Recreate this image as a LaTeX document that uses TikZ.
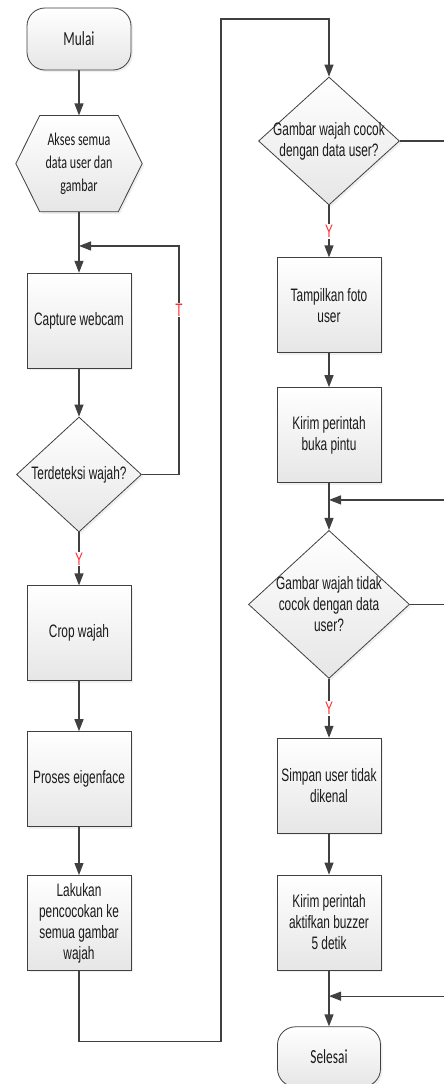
\documentclass[tikz,border=0pt]{standalone}
\usepackage{xcolor}
\usepackage{fontspec}
\setmainfont[FakeStretch=0.66]{Liberation Sans}
\newfontfamily\calfont[FakeStretch=0.67]{Carlito}
\usepackage{tikz}
\usetikzlibrary{shapes.geometric, arrows.meta, positioning, shadows, calc, backgrounds}

\definecolor{linegray}{HTML}{404040}
\definecolor{boxgray}{HTML}{E6E6E6}
\definecolor{txtgray}{HTML}{1A1A1A}
\definecolor{lblred}{HTML}{FF2A2A}

\begin{document}
\begin{tikzpicture}[
    x=1pt, y=-1pt,
    base/.style={draw=linegray, line width=0.8pt, top color=white, bottom color=boxgray, text=txtgray,
        drop shadow={shadow xshift=2pt, shadow yshift=-2pt, fill=black!12}},
    box/.style={base, rectangle, minimum width=104pt, minimum height=95pt, align=center, inner sep=2pt,
        font=\fontsize{18}{21}\selectfont},
    term/.style={box, rounded corners=18pt, minimum height=62pt, font=\calfont\fontsize{20}{24}\selectfont},
    prep/.style={rectangle, minimum width=126pt, minimum height=96pt, inner sep=0pt, align=center,
        text=txtgray, font=\calfont\fontsize{18}{23}\selectfont},
    decision/.style={base, diamond, inner sep=0pt},
    dtext/.style={align=center, text=txtgray, font=\fontsize{18}{21}\selectfont},
    line/.style={draw=linegray, line width=1.2pt},
    arrow/.style={line, -{Triangle[width=9pt, length=12pt]}},
    yt/.style={fill=white, text=lblred, inner sep=1pt, font=\fontsize{18}{18}\selectfont}
]
    \clip[use as bounding box] (0,0) rectangle (444,1084);

    % Nodes, left column
    \node[term] (start) at (79,39) {Mulai};
    \node[prep, below=45pt of start] (akses) {Akses semua\\data user dan\\gambar};
    \node[box, below=61pt of akses] (capture) {Capture webcam};
    \node[decision, minimum width=125pt, minimum height=115pt, below=48pt of capture,
        label={[dtext]center:Terdeteksi wajah?}] (deteksi) {};
    \node[box, below=53pt of deteksi] (crop) {Crop wajah};
    \node[box, below=50pt of crop] (eigen) {Proses eigenface};
    \node[box, below=48pt of eigen] (cocokkan) {Lakukan\\pencocokan ke\\semua gambar\\wajah};

    % Hexagon round the preparation text
    \begin{scope}[on background layer]
        \path[base] (akses.west) -- ([xshift=24pt]akses.north west) -- ([xshift=-24pt]akses.north east)
            -- (akses.east) -- ([xshift=-24pt]akses.south east) -- ([xshift=24pt]akses.south west) -- cycle;
    \end{scope}

    % Nodes, right column
    \node[decision, minimum width=141pt, minimum height=128pt,
        label={[dtext]center:Gambar wajah cocok\\dengan data user?}] (cocok) at (329,141) {};
    \node[box, below=52pt of cocok] (tampil) {Tampilkan foto\\user};
    \node[box, below=34pt of tampil] (buka) {Kirim perintah\\buka pintu};
    \node[decision, minimum width=161pt, minimum height=148pt, below=47pt of buka,
        label={[dtext]center:Gambar wajah tidak\\cocok dengan data\\user?}] (tidak) {};
    \node[box, below=59pt of tidak] (simpan) {Simpan user tidak\\dikenal};
    \node[box, below=41pt of simpan] (buzzer) {Kirim perintah\\aktifkan buzzer\\5 detik};
    \node[term, minimum width=103pt, minimum height=60pt, below=56pt of buzzer] (selesai) {Selesai};

    % Joints
    \coordinate (j0) at ($(akses.south)!0.56!(capture.north)$);
    \coordinate (j1) at ($(buka.south)!0.36!(tidak.north)$);
    \coordinate (j2) at ($(buzzer.south)!0.46!(selesai.north)$);

    % Arrows
    \draw[arrow] (start) -- (akses);
    \draw[arrow] (akses) -- (capture);
    \draw[arrow] (capture) -- (deteksi);
    \draw[arrow] (deteksi) -- node[yt] {Y} (crop);
    \draw[arrow] (deteksi.east) -- ++(37,0) |- node[yt, pos=0.36] {T} (j0);
    \draw[arrow] (crop) -- (eigen);
    \draw[arrow] (eigen) -- (cocokkan);
    \draw[arrow] (cocokkan.south) -- ++(0,71) -| (221,19) -| (cocok.north);
    \draw[arrow] (cocok) -- node[yt] {Y} (tampil);
    \draw[arrow] (cocok.east) -- ++(60,0) |- (j1);
    \draw[arrow] (tampil) -- (buka);
    \draw[arrow] (buka) -- (tidak);
    \draw[arrow] (tidak) -- node[yt] {Y} (simpan);
    \draw[arrow] (tidak.east) -- ++(50,0) |- (j2);
    \draw[arrow] (simpan) -- (buzzer);
    \draw[arrow] (buzzer) -- (selesai);
\end{tikzpicture}
\end{document}
